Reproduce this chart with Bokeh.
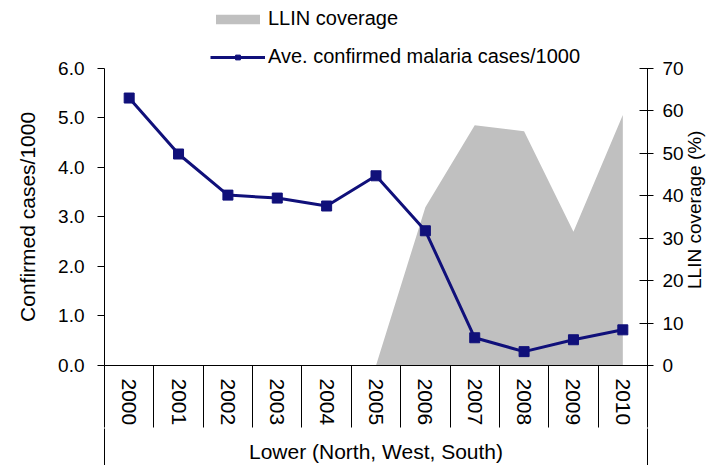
import math
from bokeh.plotting import figure
from bokeh.models import (Range1d, LinearAxis, FixedTicker, NumeralTickFormatter,
                          Legend, LegendItem)
from bokeh.embed import file_html
from bokeh.resources import INLINE

# ---- data -------------------------------------------------------------
years = [2000, 2001, 2002, 2003, 2004, 2005, 2006, 2007, 2008, 2009, 2010]
cases_per_1000 = [5.40, 4.27, 3.44, 3.38, 3.22, 3.83, 2.72, 0.56, 0.28, 0.52, 0.72]
llin_coverage = [0, 0, 0, 0, 0, 0, 37.3, 56.6, 55.2, 31.5, 59.0]
left_ticks = [0, 1, 2, 3, 4, 5, 6]
right_ticks = [0, 10, 20, 30, 40, 50, 60, 70]
group_label = "Lower (North, West, South)"
series_names = ["LLIN coverage", "Ave. confirmed malaria cases/1000"]
left_title = "Confirmed cases/1000"
right_title = "LLIN coverage (%)"

FONT = "Liberation Sans"
NAVY = "#10107a"
GRAY = "#c0c0c0"
BLACK = "#000000"

# layout (pixels): the frame reaches the top of the canvas so that the
# legend (drawn inside the frame) is not clipped; the axes are bounded.
W, H = 721, 465
FRAME_LEFT, FRAME_RIGHT, FRAME_BOTTOM, AXIS_TOP = 104, 647, 366, 68
AXIS_PX = FRAME_BOTTOM - AXIS_TOP
stretch = FRAME_BOTTOM / AXIS_PX
RIGHT_TITLE_FONT = 19
RIGHT_TITLE_CENTER_PX = 210                      # screen y of the title's middle
RIGHT_TITLE_LEN_PX = 8.34 * RIGHT_TITLE_FONT     # rendered length of the title

x_start = years[0] - 0.5
x_end = years[-1] + 0.5

p = figure(width=W, height=H,
           x_range=Range1d(x_start, x_end),
           y_range=Range1d(left_ticks[0], left_ticks[-1] * stretch),
           output_backend="svg", toolbar_location=None,
           x_axis_location=None, y_axis_location="left",
           min_border_left=FRAME_LEFT, min_border_right=W - FRAME_RIGHT,
           min_border_top=0, min_border_bottom=H - FRAME_BOTTOM)
p.extra_y_ranges = {"cov": Range1d(right_ticks[0], right_ticks[-1] * stretch)}
p.outline_line_color = None
p.xgrid.visible = False
p.ygrid.visible = False
p.background_fill_color = "white"
p.border_fill_color = "white"

# ---- glyphs -----------------------------------------------------------
area = p.varea(x=years, y1=[0] * len(years), y2=llin_coverage, y_range_name="cov",
               fill_color=GRAY, fill_alpha=1.0)
line = p.line(years, cases_per_1000, line_color=NAVY, line_width=3)
pts = p.scatter(years, cases_per_1000, marker="square", size=10,
                fill_color=NAVY, line_color=NAVY)

# ---- left axis --------------------------------------------------------
ya = p.yaxis[0]
ya.bounds = (left_ticks[0], left_ticks[-1])
ya.ticker = FixedTicker(ticks=left_ticks)
ya.formatter = NumeralTickFormatter(format="0.0")
ya.major_tick_in = 0
ya.major_tick_out = 7
ya.minor_tick_in = 0
ya.minor_tick_out = 0
ya.major_label_standoff = 13
ya.major_label_text_font = FONT
ya.major_label_text_font_size = "19px"
ya.major_label_text_color = BLACK
ya.axis_line_color = BLACK
ya.major_tick_line_color = BLACK

# left title: a label-only axis whose single tick sits at the axis middle
left_mid = (left_ticks[0] + left_ticks[-1]) // 2
yt = LinearAxis(ticker=FixedTicker(ticks=[left_mid]),
                major_label_overrides={left_mid: left_title},
                axis_line_color=None, major_tick_out=0, major_tick_in=0,
                minor_tick_out=0, minor_tick_in=0,
                major_label_orientation="vertical", major_label_standoff=16,
                major_label_text_font=FONT, major_label_text_font_size="21px",
                major_label_text_color=BLACK)
p.add_layout(yt, "left")

# ---- right axis -------------------------------------------------------
yr = LinearAxis(y_range_name="cov", ticker=FixedTicker(ticks=right_ticks),
                bounds=(right_ticks[0], right_ticks[-1]),
                major_tick_in=8, major_tick_out=6, minor_tick_in=0, minor_tick_out=0,
                major_label_standoff=9,
                major_label_text_font=FONT, major_label_text_font_size="19px",
                major_label_text_color=BLACK,
                axis_line_color=BLACK, major_tick_line_color=BLACK)
p.add_layout(yr, "right")

# right title: label-only axis; the text starts at its tick and runs upward
px_per_cov = AXIS_PX / (right_ticks[-1] - right_ticks[0])
title_start_px = RIGHT_TITLE_CENTER_PX + RIGHT_TITLE_LEN_PX / 2
right_anchor = round((FRAME_BOTTOM - title_start_px) / px_per_cov, 2)
yrt = LinearAxis(y_range_name="cov", ticker=FixedTicker(ticks=[right_anchor]),
                 major_label_overrides={right_anchor: right_title},
                 axis_line_color=None, major_tick_out=0, major_tick_in=0,
                 minor_tick_out=0, minor_tick_in=0,
                 major_label_orientation=math.pi / 2, major_label_standoff=8,
                 major_label_text_font=FONT,
                 major_label_text_font_size=f"{RIGHT_TITLE_FONT}px",
                 major_label_text_color=BLACK)
p.add_layout(yrt, "right")

# ---- category axis (years with separators) ---------------------------
boundaries = [y - 0.5 for y in years] + [years[-1] + 0.5]
xa = LinearAxis(ticker=FixedTicker(ticks=years, minor_ticks=boundaries),
                major_tick_in=0, major_tick_out=0,
                minor_tick_in=0, minor_tick_out=62,
                minor_tick_line_color=BLACK, minor_tick_line_width=1,
                axis_line_color=BLACK,
                major_label_orientation="vertical", major_label_standoff=-49,
                major_label_text_font=FONT, major_label_text_font_size="21px",
                major_label_text_color=BLACK)
p.add_layout(xa, "below")

# ---- group level axis -------------------------------------------------
center = (years[0] + years[-1]) // 2
xg = LinearAxis(ticker=FixedTicker(ticks=[center], minor_ticks=[x_start, x_end]),
                major_label_overrides={center: group_label},
                major_tick_in=0, major_tick_out=0,
                minor_tick_in=0, minor_tick_out=50,
                minor_tick_line_color=BLACK, minor_tick_line_width=1,
                axis_line_color=None,
                major_label_standoff=-39,
                major_label_text_font=FONT, major_label_text_font_size="21px",
                major_label_text_color=BLACK)
p.add_layout(xg, "below")

# ---- legend -----------------------------------------------------------
legend = Legend(items=[LegendItem(label=series_names[0], renderers=[area]),
                       LegendItem(label=series_names[1], renderers=[line, pts])],
                location=(106, 297), orientation="vertical",
                border_line_color=None, background_fill_alpha=0,
                padding=0, margin=0, spacing=15,
                glyph_width=55, glyph_height=12, label_height=20, label_standoff=3,
                label_text_font=FONT, label_text_font_size="20px",
                label_text_color=BLACK)
p.add_layout(legend)

open("out.html", "w").write(file_html(p, INLINE))
